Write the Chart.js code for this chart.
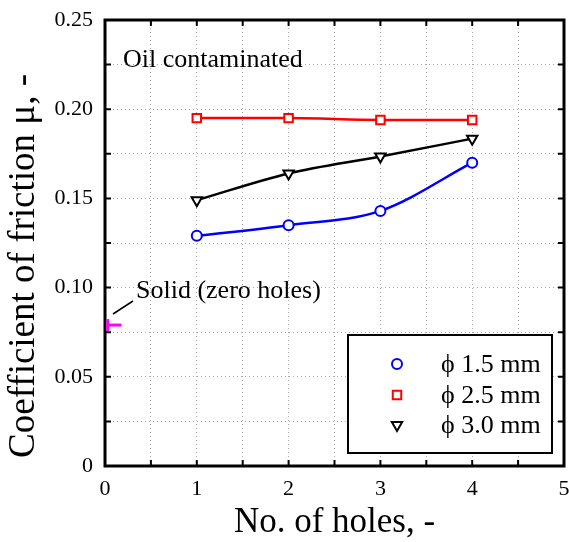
<!DOCTYPE html>
<html>
<head>
<meta charset="utf-8">
<script src="https://cdn.jsdelivr.net/npm/chart.js@4.4.0/dist/chart.umd.min.js"></script>
<style>
  html, body { margin: 0; padding: 0; background: #fff; }
  canvas { display: block; }
</style>
</head>
<body>
<canvas id="chart" width="569" height="542"></canvas>
<script>
const holes = [1, 2, 3, 4];
const mu15 = [0.129, 0.135, 0.143, 0.170];
const mu25 = [0.195, 0.195, 0.194, 0.194];
const mu30 = [0.149, 0.164, 0.1735, 0.1835];
const solidHoles = [0.03, 0.18];
const solidMu = [0.079, 0.079];
const seriesLabels = ["\u03d5 1.5 mm", "\u03d5 2.5 mm", "\u03d5 3.0 mm"];
const xTickLabels = ["0", "1", "2", "3", "4", "5"];
const yTickLabels = ["0", "0.05", "0.10", "0.15", "0.20", "0.25"];

const serif = "'Liberation Serif', 'Times New Roman', serif";

function toPoints(xs, ys) {
  return xs.map((x, i) => ({ x: x, y: ys[i] }));
}

// box frame, inward ticks, titles, notes and legend
const frameAndNotes = {
  id: "frameAndNotes",
  beforeDatasetsDraw(chart) {
    const ctx = chart.ctx;
    const a = chart.chartArea;
    const xs = chart.scales.x, ys = chart.scales.y;
    ctx.save();
    ctx.strokeStyle = "#000";
    ctx.lineWidth = 2;
    ctx.beginPath();
    for (let v = 0.5; v < 5; v += 0.5) {
      const px = xs.getPixelForValue(v);
      ctx.moveTo(px, a.bottom); ctx.lineTo(px, a.bottom - 6);
      ctx.moveTo(px, a.top); ctx.lineTo(px, a.top + 6);
    }
    for (let v = 0.025; v < 0.25; v += 0.025) {
      const py = ys.getPixelForValue(v);
      ctx.moveTo(a.left, py); ctx.lineTo(a.left + 6, py);
      ctx.moveTo(a.right, py); ctx.lineTo(a.right - 6, py);
    }
    ctx.stroke();
    ctx.lineWidth = 3;
    ctx.strokeRect(a.left, a.top, a.right - a.left, a.bottom - a.top);
    ctx.restore();
  },
  afterDraw(chart) {
    const ctx = chart.ctx;
    const a = chart.chartArea;
    ctx.save();

    ctx.fillStyle = "#000";
    ctx.strokeStyle = "#000";
    ctx.textAlign = "center";
    ctx.textBaseline = "middle";
    ctx.font = "35px " + serif;
    ctx.fillText("No. of holes, -", (a.left + a.right) / 2, 523);
    ctx.save();
    ctx.translate(24, 266);
    ctx.rotate(-Math.PI / 2);
    ctx.font = "37px " + serif;
    ctx.fillText("Coefficient of friction \u03bc, -", 0, 0);
    ctx.restore();

    ctx.font = "26px " + serif;
    ctx.textAlign = "left";
    ctx.fillText("Oil contaminated", 123, 60);
    ctx.fillText("Solid (zero holes)", 136, 291);
    ctx.lineWidth = 1.5;
    ctx.beginPath();
    ctx.moveTo(113, 314);
    ctx.lineTo(133, 301);
    ctx.stroke();

    const lx = 348, ly = 335, lw = 204, lh = 118;
    ctx.fillStyle = "#fff";
    ctx.fillRect(lx, ly, lw, lh);
    ctx.lineWidth = 2;
    ctx.strokeRect(lx, ly, lw, lh);
    const rows = [364, 395, 425];
    chart.data.datasets.slice(0, 3).forEach((ds, i) => {
      ctx.strokeStyle = ds.borderColor;
      ctx.fillStyle = "#fff";
      ctx.lineWidth = ds.pointBorderWidth;
      Chart.helpers.drawPoint(ctx, {
        pointStyle: ds.pointStyle,
        rotation: ds.rotation || 0,
        radius: ds.pointRadius,
        borderWidth: ds.pointBorderWidth
      }, 397, rows[i]);
      ctx.fillStyle = "#000";
      ctx.font = "26px " + serif;
      ctx.fillText(ds.label, 441, rows[i] + 1);
    });
    ctx.restore();
  }
};

const pointCommon = {
  showLine: true,
  borderWidth: 2.5,
  pointBorderWidth: 2,
  pointBackgroundColor: "#fff",
  cubicInterpolationMode: "monotone"
};

new Chart(document.getElementById("chart"), {
  type: "scatter",
  data: {
    datasets: [
      Object.assign({}, pointCommon, {
        label: seriesLabels[0], data: toPoints(holes, mu15),
        borderColor: "#0000ff", pointBorderColor: "#0000ff",
        pointStyle: "circle", pointRadius: 5
      }),
      Object.assign({}, pointCommon, {
        label: seriesLabels[1], data: toPoints(holes, mu25),
        borderColor: "#ff0000", pointBorderColor: "#ff0000",
        pointStyle: "rect", pointRadius: 6
      }),
      Object.assign({}, pointCommon, {
        label: seriesLabels[2], data: toPoints(holes, mu30),
        borderColor: "#000000", pointBorderColor: "#000000",
        pointStyle: "triangle", rotation: 180, pointRadius: 6
      }),
      {
        label: "Solid", data: toPoints(solidHoles, solidMu),
        showLine: true, borderColor: "#ff00ff", borderWidth: 3,
        pointStyle: "line", rotation: 90, pointBorderColor: "#ff00ff",
        pointBorderWidth: 3, pointRadius: [6, 0]
      }
    ]
  },
  options: {
    responsive: false,
    animation: false,
    layout: { autoPadding: false, padding: { top: 20, right: 5, left: 0, bottom: 0 } },
    plugins: { legend: { display: false }, tooltip: { enabled: false } },
    scales: {
      x: {
        type: "linear", min: 0, max: 5,
        afterFit(scale) {
          scale.height = 76;
          scale.paddingRight = 0;
          scale.paddingLeft = 0;
        },
        ticks: {
          stepSize: 0.5, padding: 0, color: "#000",
          font: { family: serif, size: 22 },
          callback: v => Number.isInteger(v) ? xTickLabels[v] : ""
        },
        grid: { color: "#aaa", drawTicks: true, tickLength: 10, tickColor: "rgba(0,0,0,0)", lineWidth: 1 },
        border: { display: false, dash: [1, 3] }
      },
      y: {
        min: 0, max: 0.25,
        afterFit(scale) { scale.width = 105; },
        ticks: {
          stepSize: 0.025, padding: 0, color: "#000",
          font: { family: serif, size: 22 },
          callback: v => {
            const k = Math.round(v / 0.025);
            return k % 2 === 0 ? yTickLabels[k / 2] : "";
          }
        },
        grid: { color: "#aaa", drawTicks: true, tickLength: 12, tickColor: "rgba(0,0,0,0)", lineWidth: 1 },
        border: { display: false, dash: [1, 3] }
      }
    }
  },
  plugins: [frameAndNotes]
});
</script>
</body>
</html>
